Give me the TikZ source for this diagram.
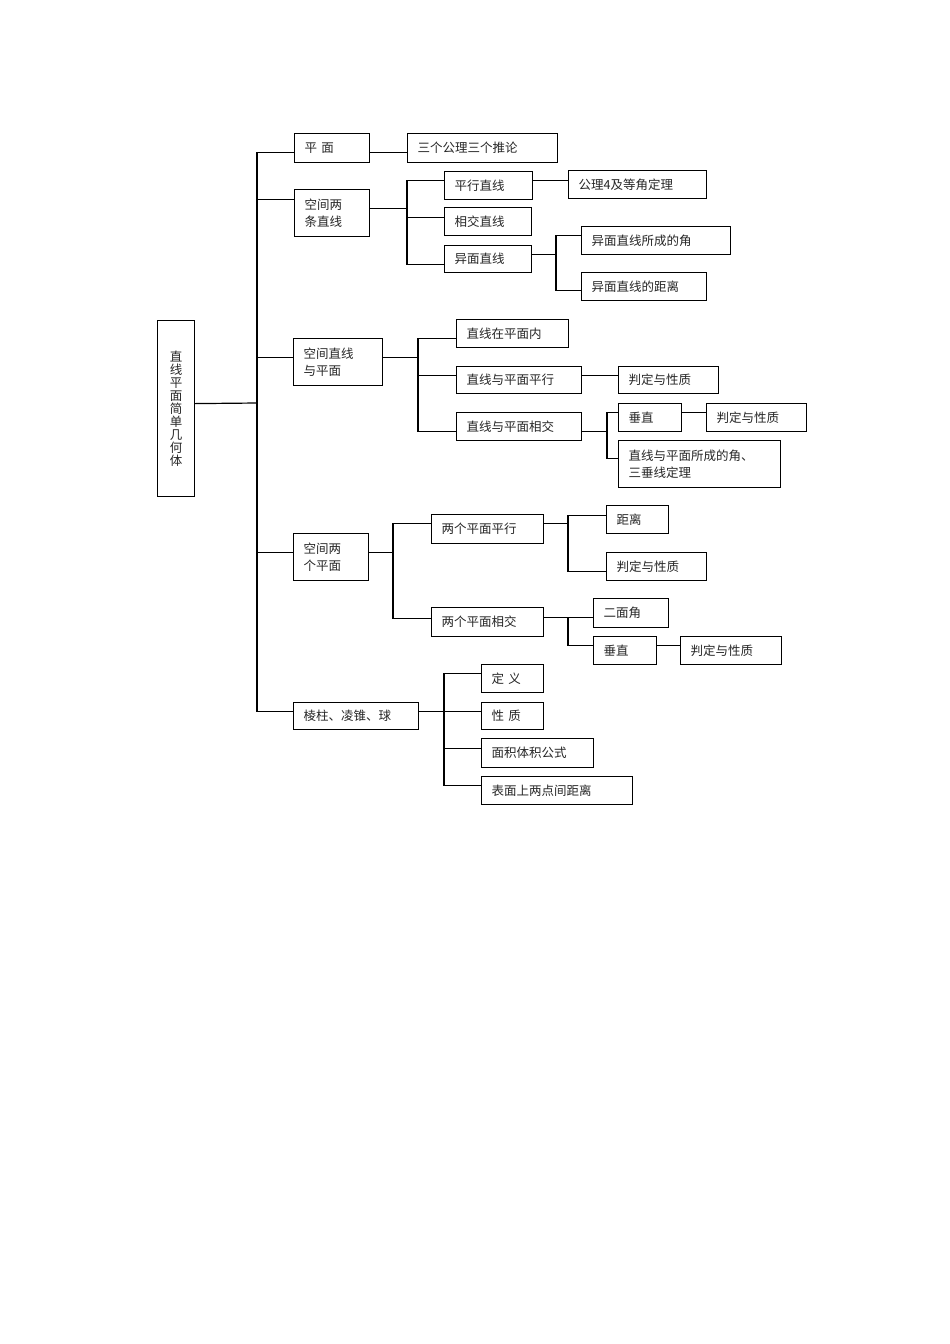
\documentclass[tikz,border=0pt]{standalone}
\usepackage{fontspec}
\setmainfont{Noto Sans CJK SC}

\begin{document}
\begin{tikzpicture}[
        x=1pt, y=-1pt,
        every node/.style={font=\fontsize{12.5}{16.5}\selectfont, text=black!85},
        box/.style={rectangle, draw, line width=1.2pt, anchor=north west, inner xsep=10pt, inner ysep=0pt, align=left},
        title/.style={rectangle, draw, line width=1.2pt, anchor=north west, inner sep=0pt, align=center, font=\fontsize{12.5}{13}\selectfont},
        link/.style={line width=1.2pt}
    ]
        \fill[white] (0,0) rectangle (950,1344);
        \useasboundingbox (0,0) rectangle (950,1344);

        % Nodes
        \node[title, minimum width=37pt, minimum height=176pt] (root) at (157,320) {直\\线\\平\\面\\简\\单\\几\\何\\体};

        \node[box, text width=55pt, minimum height=29pt] (plane) at (294,133) {平 面};
        \node[box, text width=55pt, minimum height=47pt] (twoline) at (294,189) {空间两\\条直线};
        \node[box, text width=69pt, minimum height=47pt] (lineplane) at (293,338) {空间直线\\与平面};
        \node[box, text width=55pt, minimum height=47pt] (twoplane) at (293,533) {空间两\\个平面};
        \node[box, text width=105pt, minimum height=27pt] (solid) at (293,702) {棱柱、凌锥、球};

        \node[box, text width=130pt, minimum height=29pt] (axioms) at (407,133) {三个公理三个推论};
        \node[box, text width=68pt, minimum height=28pt] (parallel) at (444,171) {平行直线};
        \node[box, text width=118pt, minimum height=28pt] (thm4) at (568,170) {公理4及等角定理};
        \node[box, text width=67pt, minimum height=28pt] (intersect) at (444,207) {相交直线};
        \node[box, text width=67pt, minimum height=27pt] (skew) at (444,245) {异面直线};
        \node[box, text width=129pt, minimum height=28pt] (skewangle) at (581,226) {异面直线所成的角};
        \node[box, text width=105pt, minimum height=28pt] (skewdist) at (581,272) {异面直线的距离};

        \node[box, text width=92pt, minimum height=28pt] (inplane) at (456,319) {直线在平面内};
        \node[box, text width=105pt, minimum height=27pt] (parplane) at (456,366) {直线与平面平行};
        \node[box, text width=80pt, minimum height=27pt] (judgeA) at (618,366) {判定与性质};
        \node[box, text width=105pt, minimum height=28pt] (crossplane) at (456,412) {直线与平面相交};
        \node[box, text width=43pt, minimum height=28pt] (perpA) at (618,403) {垂直};
        \node[box, text width=80pt, minimum height=28pt] (judgeB) at (706,403) {判定与性质};
        \node[box, text width=142pt, minimum height=47pt] (angle) at (618,440) {直线与平面所成的角、\\三垂线定理};

        \node[box, text width=92pt, minimum height=29pt] (ppar) at (431,514) {两个平面平行};
        \node[box, text width=92pt, minimum height=29pt] (pcross) at (431,607) {两个平面相交};
        \node[box, text width=42pt, minimum height=28pt] (dist) at (606,505) {距离};
        \node[box, text width=80pt, minimum height=28pt] (judgeC) at (606,552) {判定与性质};
        \node[box, text width=55pt, minimum height=29pt] (dihedral) at (593,598) {二面角};
        \node[box, text width=43pt, minimum height=28pt] (perpB) at (593,636) {垂直};
        \node[box, text width=81pt, minimum height=28pt] (judgeD) at (680,636) {判定与性质};

        \node[box, text width=42pt, minimum height=28pt] (defn) at (481,664) {定 义};
        \node[box, text width=42pt, minimum height=27pt] (prop) at (481,702) {性 质};
        \node[box, text width=92pt, minimum height=29pt] (formula) at (481,738) {面积体积公式};
        \node[box, text width=131pt, minimum height=28pt] (surfdist) at (481,776) {表面上两点间距离};

        % Junctions
        \coordinate (spine) at (257,403);
        \coordinate (jtwoline) at (407,208);
        \coordinate (jskew) at (556,254);
        \coordinate (jlineplane) at (418,357);
        \coordinate (jcross) at (607,431);
        \coordinate (jtwoplane) at (393,552);
        \coordinate (jppar) at (568,523);
        \coordinate (jpcross) at (568,617);
        \coordinate (jsolid) at (444,711);

        % Lines (main spine)
        \draw[link] ([yshift=5pt]root.east) -- (spine);
        \draw[link] ([yshift=-4.5pt]plane.west) -| (spine);
        \draw[link] ([yshift=13.5pt]twoline.west) -| (spine);
        \draw[link] ([yshift=4.5pt]lineplane.west) -| (spine);
        \draw[link] ([yshift=4.5pt]twoplane.west) -| (spine);
        \draw[link] ([yshift=4.5pt]solid.west) -| (spine);

        % Lines (plane, two lines)
        \draw[link] ([yshift=-4.5pt]plane.east) -- ([yshift=-4.5pt]axioms.west);
        \draw[link] ([yshift=4.5pt]twoline.east) -| (jtwoline);
        \draw[link] ([yshift=5pt]parallel.west) -| (jtwoline);
        \draw[link] ([yshift=4pt]intersect.west) -| (jtwoline);
        \draw[link] ([yshift=-5.5pt]skew.west) -| (jtwoline);
        \draw[link] ([yshift=5pt]parallel.east) -- ([yshift=4pt]thm4.west);
        \draw[link] ([yshift=4.5pt]skew.east) -| (jskew);
        \draw[link] ([yshift=5pt]skewangle.west) -| (jskew);
        \draw[link] ([yshift=-4pt]skewdist.west) -| (jskew);

        % Lines (line and plane)
        \draw[link] ([yshift=4.5pt]lineplane.east) -| (jlineplane);
        \draw[link] ([yshift=-5pt]inplane.west) -| (jlineplane);
        \draw[link] ([yshift=4.5pt]parplane.west) -| (jlineplane);
        \draw[link] ([yshift=-5pt]crossplane.west) -| (jlineplane);
        \draw[link] ([yshift=4.5pt]parplane.east) -- ([yshift=4.5pt]judgeA.west);
        \draw[link] ([yshift=-5pt]crossplane.east) -| (jcross);
        \draw[link] ([yshift=5pt]perpA.west) -| (jcross);
        \draw[link] ([yshift=5.5pt]angle.west) -| (jcross);
        \draw[link] ([yshift=5pt]perpA.east) -- ([yshift=5pt]judgeB.west);

        % Lines (two planes)
        \draw[link] ([yshift=4.5pt]twoplane.east) -| (jtwoplane);
        \draw[link] ([yshift=5.5pt]ppar.west) -| (jtwoplane);
        \draw[link] ([yshift=3.5pt]pcross.west) -| (jtwoplane);
        \draw[link] ([yshift=5.5pt]ppar.east) -| (jppar);
        \draw[link] ([yshift=4pt]dist.west) -| (jppar);
        \draw[link] ([yshift=-5pt]judgeC.west) -| (jppar);
        \draw[link] ([yshift=4.5pt]pcross.east) -| (jpcross);
        \draw[link] ([yshift=-4.5pt]dihedral.west) -| (jpcross);
        \draw[link] ([yshift=5pt]perpB.west) -| (jpcross);
        \draw[link] ([yshift=5pt]perpB.east) -- ([yshift=5pt]judgeD.west);

        % Lines (solids)
        \draw[link] ([yshift=4.5pt]solid.east) -| (jsolid);
        \draw[link] ([yshift=5pt]defn.west) -| (jsolid);
        \draw[link] ([yshift=4.5pt]prop.west) -| (jsolid);
        \draw[link] ([yshift=4.5pt]formula.west) -| (jsolid);
        \draw[link] ([yshift=5pt]surfdist.west) -| (jsolid);

    \end{tikzpicture}
\end{document}
